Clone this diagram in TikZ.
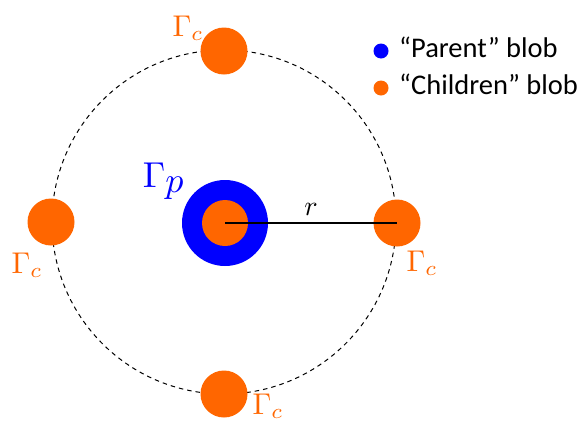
\documentclass[tikz,border=0pt]{standalone}
\usepackage{amsmath}
\usepackage{graphicx}
\usepackage{fontspec}
\setmainfont{Carlito}
\usepackage{tikz}
\usetikzlibrary{positioning}
\definecolor{blobblue}{RGB}{0,0,255}
\definecolor{bloborange}{RGB}{255,102,0}
\newcommand{\biglab}[2]{\scalebox{#1}{$#2$}}

\begin{document}
\begin{tikzpicture}[x=1pt,y=-1pt,
  blob/.style={circle,inner sep=0pt,fill=bloborange},
  gammalab/.style={text=bloborange,inner sep=0pt},
  legdot/.style={circle,inner sep=0pt,minimum size=15pt},
  legtext/.style={anchor=base west,inner sep=0pt,font=\fontsize{28.5}{28.5}\selectfont}]
\useasboundingbox (0,0) rectangle (585,426);
\draw[dash pattern=on 4.5pt off 4pt,line width=1pt] (224,222) circle (172pt);
% children on the circle
\foreach \n/\x/\y in {top/224/51,left/51/222,bottom/224/394,right/397/223} {
    \node[blob,minimum size=47pt] (c-\n) at (\x,\y) {};
}
% parent blob
\node[blob,fill=blobblue,minimum size=86pt] (parent) at (225,223) {};
\node[blob,minimum size=46pt] (parent-in) at (225,223) {};
\draw[line width=1.5pt] (parent.center) -- node[above=3pt] (rlab) {\biglab{2.8}{r}} (c-right.center);
\node[text=blobblue,inner sep=0pt] (gp) at (164,181) {\biglab{3.6}{\Gamma_{\textstyle p}}};
\foreach \n/\x/\y in {top/188/28,left/27/265,bottom/268/406,right/422/263} {
    \node[gammalab] (g-\n) at (\x,\y) {\biglab{3.0}{\Gamma_c}};
}
% legend
\node[legdot,fill=blobblue] (dot-p) at (381,51) {};
\node[legdot,fill=bloborange] (dot-c) at (381,88) {};
\node[legtext] (leg-p) at (399,57) {“Parent” blob};
\node[legtext] (leg-c) at (399,94) {“Children” blob};
\end{tikzpicture}
\end{document}
